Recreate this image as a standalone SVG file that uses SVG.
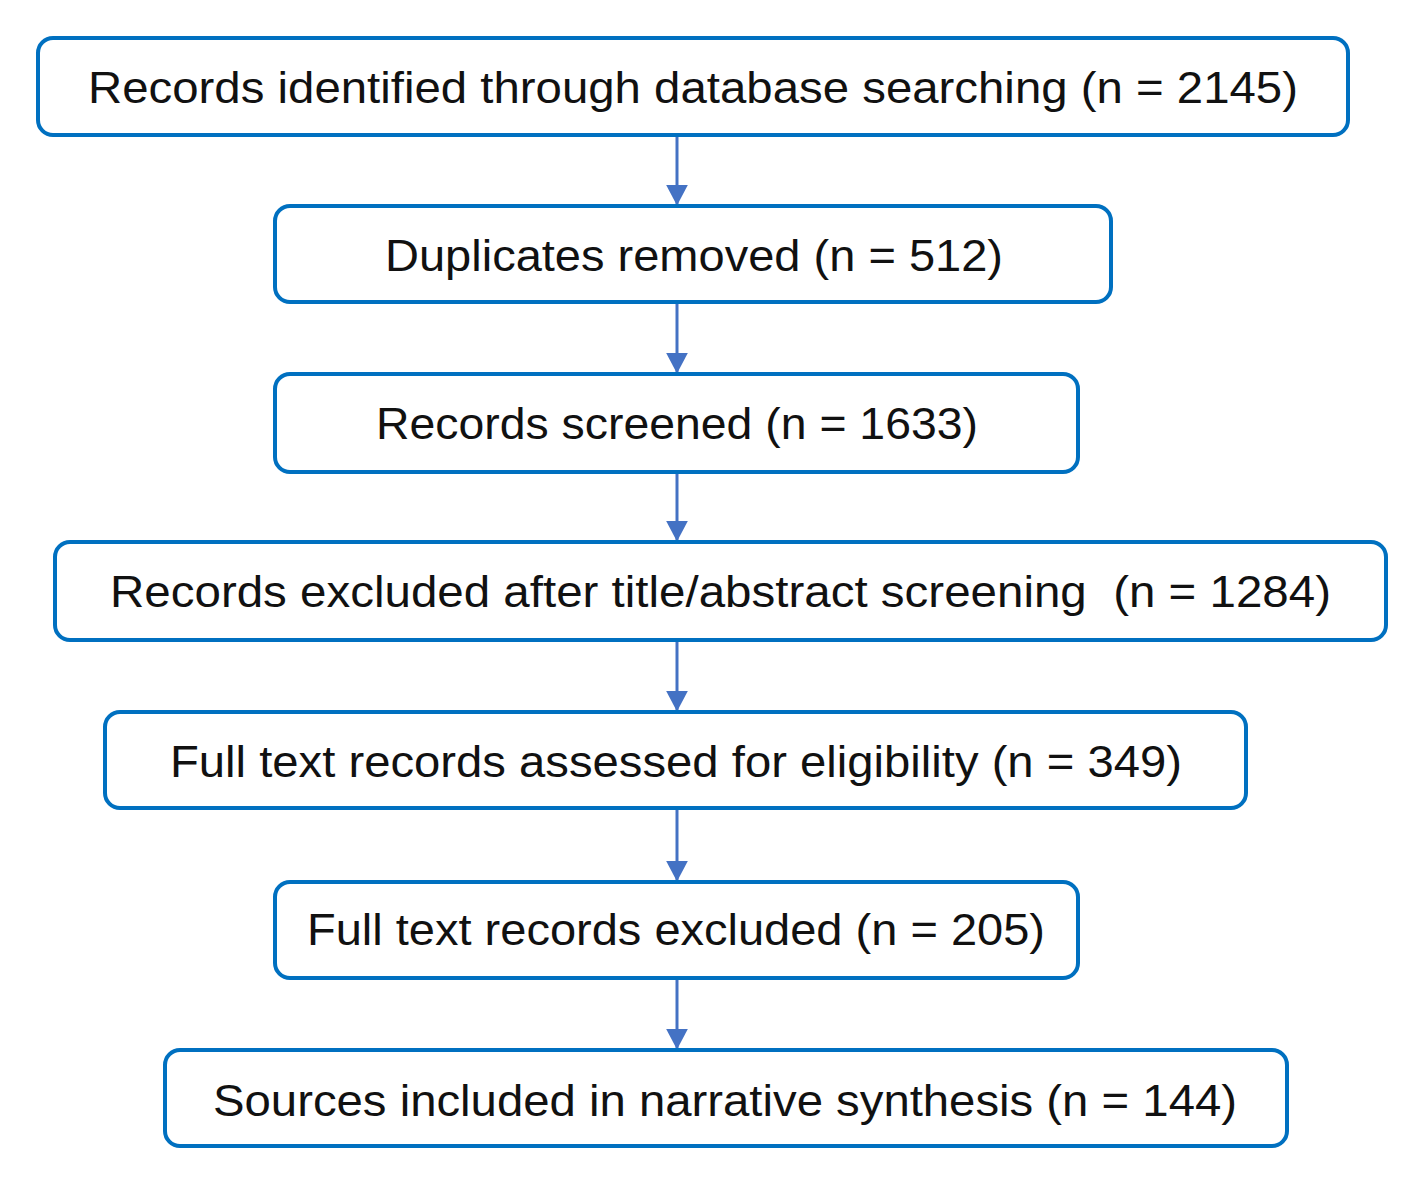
<svg xmlns="http://www.w3.org/2000/svg" width="1415" height="1179" viewBox="0 0 1415 1179">
<defs>
<marker id="ah" markerWidth="7" markerHeight="7.4" refX="6.5" refY="3.7" orient="auto" markerUnits="strokeWidth">
<path d="M0,0 L7,3.7 L0,7.4 Z" fill="#4472C4"/>
</marker>
<style>
.box{fill:#fff;stroke:#0070C0;stroke-width:4}
.t{font-family:"Liberation Sans",Arial,sans-serif;font-size:44px;fill:#111;text-anchor:start}
.c{stroke:#4472C4;stroke-width:3;fill:none}
</style>
</defs>
<rect width="1415" height="1179" fill="#fff"/>
<g id="connectors">
<line class="c" x1="677" y1="136" x2="677" y2="204" marker-end="url(#ah)"/>
<line class="c" x1="677" y1="304" x2="677" y2="372" marker-end="url(#ah)"/>
<line class="c" x1="677" y1="474" x2="677" y2="540" marker-end="url(#ah)"/>
<line class="c" x1="677" y1="642" x2="677" y2="710" marker-end="url(#ah)"/>
<line class="c" x1="677" y1="810" x2="677" y2="880" marker-end="url(#ah)"/>
<line class="c" x1="677" y1="980" x2="677" y2="1048" marker-end="url(#ah)"/>
</g>
<g id="n1"><rect class="box" x="38" y="38" width="1310" height="97" rx="15"/><text class="t" x="88" y="103" textLength="1210" lengthAdjust="spacingAndGlyphs">Records identified through database searching (n = 2145)</text></g>
<g id="n2"><rect class="box" x="275" y="206" width="836" height="96" rx="15"/><text class="t" x="385" y="271" textLength="618" lengthAdjust="spacingAndGlyphs">Duplicates removed (n = 512)</text></g>
<g id="n3"><rect class="box" x="275" y="374" width="803" height="98" rx="15"/><text class="t" x="376" y="439" textLength="602" lengthAdjust="spacingAndGlyphs">Records screened (n = 1633)</text></g>
<g id="n4"><rect class="box" x="55" y="542" width="1331" height="98" rx="15"/><text class="t" x="110" y="607" textLength="1221" lengthAdjust="spacingAndGlyphs" xml:space="preserve">Records excluded after title/abstract screening  (n = 1284)</text></g>
<g id="n5"><rect class="box" x="105" y="712" width="1141" height="96" rx="15"/><text class="t" x="170" y="777" textLength="1012" lengthAdjust="spacingAndGlyphs">Full text records assessed for eligibility (n = 349)</text></g>
<g id="n6"><rect class="box" x="275" y="882" width="803" height="96" rx="15"/><text class="t" x="307" y="945" textLength="738" lengthAdjust="spacingAndGlyphs">Full text records excluded (n = 205)</text></g>
<g id="n7"><rect class="box" x="165" y="1050" width="1122" height="96" rx="15"/><text class="t" x="213" y="1116" textLength="1024" lengthAdjust="spacingAndGlyphs">Sources included in narrative synthesis (n = 144)</text></g>
</svg>
